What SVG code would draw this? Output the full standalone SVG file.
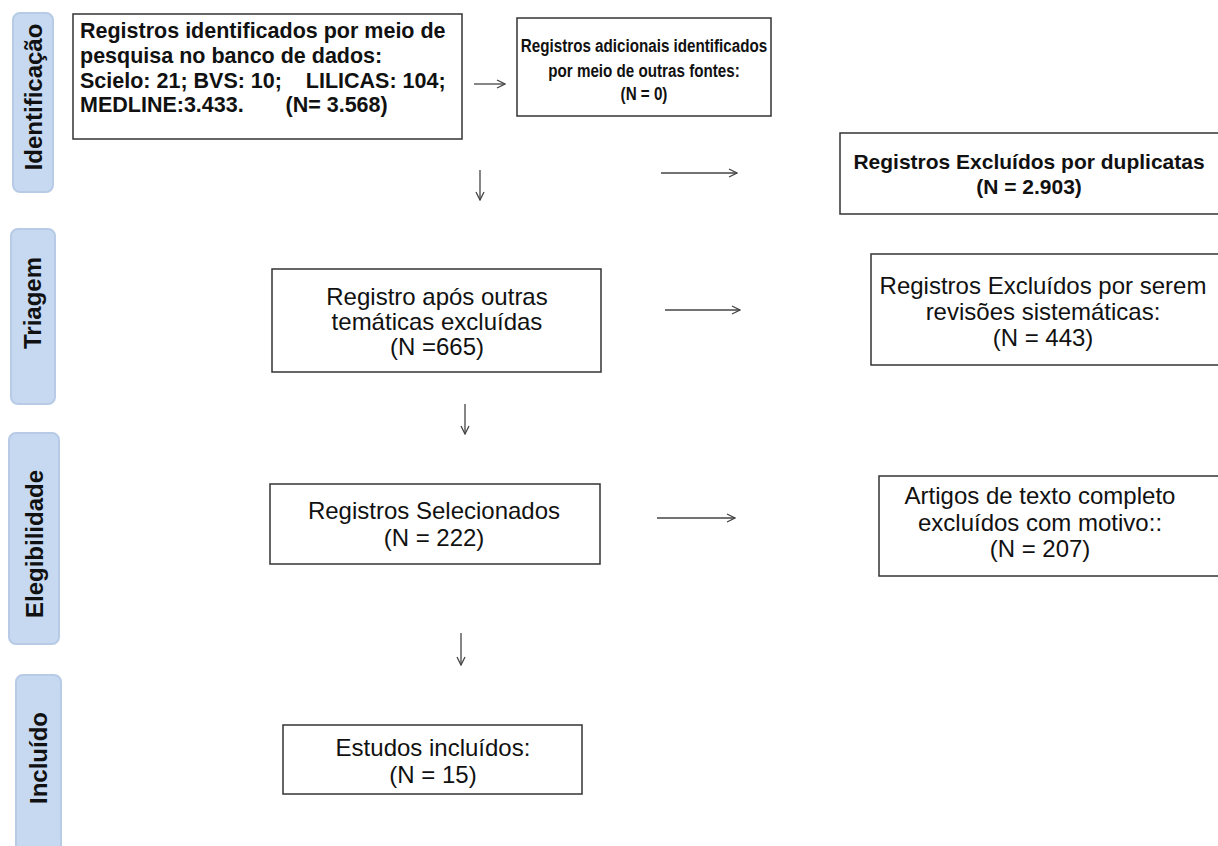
<svg xmlns="http://www.w3.org/2000/svg" width="1218" height="846" viewBox="0 0 1218 846">
<defs>
<style>
.phase rect{fill:#C6D9F1;stroke:#B7CBE6;stroke-width:2}
.phase text{font-family:"Liberation Sans",Arial,sans-serif;font-weight:bold;font-size:24px;fill:#111;text-anchor:middle}
.box rect{fill:#fff;stroke:#333;stroke-width:1.5}
.box text{font-family:"Liberation Sans",Arial,sans-serif;fill:#111}
.t1{font-weight:bold;font-size:21.5px}
.t2{font-weight:bold;font-size:19px;text-anchor:middle}
.t4{font-weight:bold;font-size:21px;text-anchor:middle}
.t3{font-size:24px;text-anchor:middle}
.conn line{stroke:#444;stroke-width:1.3;fill:none}
</style>
<marker id="ah" viewBox="0 0 10 10" refX="9" refY="5" markerWidth="10" markerHeight="10" markerUnits="userSpaceOnUse" orient="auto">
<path d="M1,1 L9,5 L1,9" fill="none" stroke="#444" stroke-width="1.3"/>
</marker>
</defs>
<rect width="1218" height="846" fill="#fff"/>

<g id="phase-identificacao" class="phase"><rect x="13" y="13" width="40" height="179" rx="7"/><text transform="translate(42,97) rotate(-90)">Identificação</text></g>
<g id="phase-triagem" class="phase"><rect x="11" y="229" width="44" height="175" rx="7"/><text transform="translate(41,303) rotate(-90)">Triagem</text></g>
<g id="phase-elegibilidade" class="phase"><rect x="9" y="433" width="50" height="211" rx="7"/><text transform="translate(43,544) rotate(-90)">Elegibilidade</text></g>
<g id="phase-incluido" class="phase"><rect x="16" y="675" width="45" height="185" rx="7"/><text transform="translate(47,758) rotate(-90)">Incluído</text></g>

<g id="box-registros-banco" class="box"><rect x="73" y="14" width="389" height="125"/>
<text class="t1" x="80" y="38">Registros identificados por meio de</text>
<text class="t1" x="80" y="63">pesquisa no banco de dados:</text>
<text class="t1" x="80" y="88" xml:space="preserve">Scielo: 21; BVS: 10;    LILICAS: 104;</text>
<text class="t1" x="80" y="112" xml:space="preserve">MEDLINE:3.433.       (N= 3.568)</text></g>

<g id="box-outras-fontes" class="box"><rect x="517" y="18" width="254" height="98"/>
<g transform="translate(644 0) scale(0.8 1)">
<text class="t2" x="0" y="52">Registros adicionais identificados</text>
<text class="t2" x="0" y="77">por meio de outras fontes:</text>
<text class="t2" x="0" y="100">(N = 0)</text></g></g>

<g id="box-duplicatas" class="box"><rect x="840" y="133" width="390" height="81"/>
<text class="t4" x="1029" y="169">Registros Excluídos por duplicatas</text>
<text class="t4" x="1029" y="194">(N = 2.903)</text></g>

<g id="box-tematicas" class="box"><rect x="272" y="269" width="329" height="103"/>
<text class="t3" x="437" y="305">Registro após outras</text>
<text class="t3" x="437" y="330">temáticas excluídas</text>
<text class="t3" x="437" y="355">(N =665)</text></g>

<g id="box-revisoes" class="box"><rect x="871" y="254" width="360" height="111"/>
<text class="t3" x="1043" y="294">Registros Excluídos por serem</text>
<text class="t3" x="1043" y="320">revisões sistemáticas:</text>
<text class="t3" x="1043" y="346">(N = 443)</text></g>

<g id="box-selecionados" class="box"><rect x="270" y="484" width="330" height="80"/>
<text class="t3" x="434" y="519">Registros Selecionados</text>
<text class="t3" x="434" y="546">(N = 222)</text></g>

<g id="box-texto-completo" class="box"><rect x="879" y="476" width="350" height="100"/>
<text class="t3" x="1040" y="504">Artigos de texto completo</text>
<text class="t3" x="1040" y="531">excluídos com motivo::</text>
<text class="t3" x="1040" y="557">(N = 207)</text></g>

<g id="box-incluidos" class="box"><rect x="283" y="725" width="299" height="69"/>
<text class="t3" x="433" y="756">Estudos incluídos:</text>
<text class="t3" x="433" y="783">(N = 15)</text></g>

<g id="connectors" class="conn">
<line x1="474" y1="84" x2="505" y2="84" marker-end="url(#ah)"/>
<line x1="480" y1="170" x2="480" y2="200" marker-end="url(#ah)"/>
<line x1="661" y1="173" x2="737" y2="173" marker-end="url(#ah)"/>
<line x1="665" y1="310" x2="740" y2="310" marker-end="url(#ah)"/>
<line x1="465" y1="404" x2="465" y2="434" marker-end="url(#ah)"/>
<line x1="657" y1="518" x2="735" y2="518" marker-end="url(#ah)"/>
<line x1="461" y1="633" x2="461" y2="665" marker-end="url(#ah)"/>
</g>
</svg>
